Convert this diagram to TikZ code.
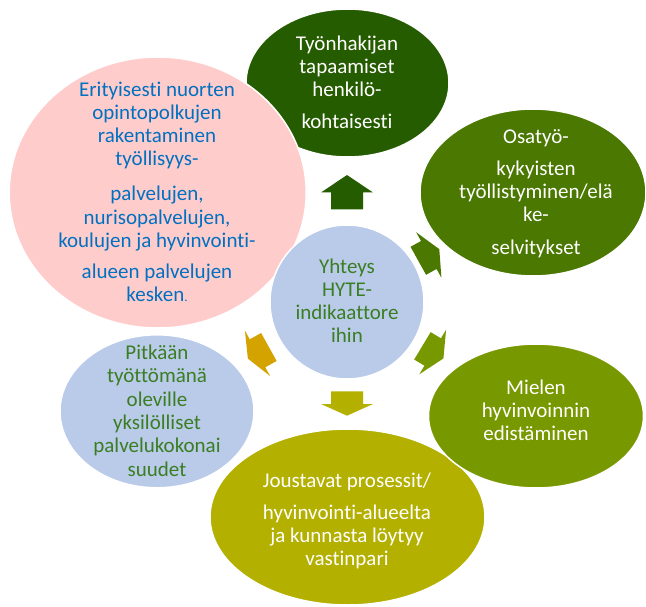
\documentclass[tikz,border=0pt]{standalone}
\usepackage{fontspec}
\setmainfont{Carlito}[Ligatures=NoCommon]
\usetikzlibrary{shapes.geometric}
\definecolor{cTop}{HTML}{265C00}
\definecolor{cOsa}{HTML}{4A7800}
\definecolor{cMie}{HTML}{789800}
\definecolor{cJou}{HTML}{B3B000}
\definecolor{cGold}{HTML}{D4A300}
\definecolor{cBlue}{HTML}{B9CBE9}
\definecolor{cPink}{HTML}{FFCCCC}
\definecolor{tBlue}{HTML}{0070C0}
\definecolor{tGreen}{HTML}{3B7D23}
\tikzset{
  blob/.style={ellipse, draw=white, line width=1.5pt, inner sep=0pt},
  txt/.style={align=center, inner sep=0pt, font=\fontsize{21}{23.3}\selectfont}
}
% block arrow: barb-mid x, y, angle, shaft length, head length, colour
\newcommand{\radarrow}[6]{%
  \begin{scope}[shift={(#1,#2)},rotate=#3]
    \fill[#6] (#5pt,0pt) -- (0pt,26pt) -- (0pt,16pt) -- (-#4pt,16pt)
      -- (-#4pt,-16pt) -- (0pt,-16pt) -- (0pt,-26pt) -- cycle;
  \end{scope}}
\begin{document}
\begin{tikzpicture}[x=1pt,y=-1pt]
\useasboundingbox (0,0) rectangle (646,607);
\fill[white] (0,0) rectangle (646,607);
% arrows
\radarrow{347}{192.5}{90}{17}{17.5}{cTop}
\radarrow{428.8}{255}{29}{12}{12}{cOsa}
\radarrow{432.7}{352}{-31}{12}{12.5}{cMie}
\radarrow{347}{404}{-90}{12.7}{11.7}{cJou}
\radarrow{257.5}{353.3}{209}{13}{11}{cGold}
% shapes
\node[blob, fill=cTop, minimum width=203pt, minimum height=148pt] (top) at (347.5,83) {};
\node[blob, fill=cOsa, minimum width=226pt, minimum height=167pt] (osa) at (533,192.5) {};
\node[blob, fill=cJou, minimum width=275pt, minimum height=176pt] (jou) at (347.5,517) {};
\node[blob, fill=cMie, minimum width=215pt, minimum height=144pt] (mie) at (536,416) {};
\node[blob, fill=cBlue, minimum width=194pt, minimum height=153pt] (pit) at (157,411.3) {};
\node[blob, fill=cPink, minimum width=297pt, minimum height=271pt] (eri) at (157.7,192.5) {};
\node[blob, fill=cBlue, minimum width=154pt, minimum height=154pt] (hyte) at (347,302) {};
% texts
\node[txt, text=white] (toptxt) at (347,84.5)
  {\strut Työnhakijan\\ tapaamiset\\ henkilö-\\[8.3pt] kohtaisesti\strut};
\node[txt, text=white] (osatxt) at (536,194.5)
  {\strut Osatyö-\\[8.4pt] kykyisten\\ työllistyminen/elä\\ ke-\\[10pt] selvitykset\strut};
\node[txt, text=tBlue] (eritxt) at (157,194.25)
  {\strut Erityisesti nuorten\\ opintopolkujen\\ rakentaminen\\ työllisyys-\\[11.7pt] palvelujen,\\ nurisopalvelujen,\\ koulujen ja hyvinvointi-\\[7.7pt] alueen palvelujen\\ kesken{\fontsize{13}{13}\selectfont .}\strut};
\node[txt, text=tGreen] (hytetxt) at (347,303.35)
  {\strut Yhteys\\ HYTE-\\ indikaattore\\ ihin\strut};
\node[txt, text=tGreen] (pittxt) at (157,413.2)
  {\strut Pitkään\\ työttömänä\\ oleville\\ yksilölliset\\ palvelukokonai\\ suudet\strut};
\node[txt, text=white] (mietxt) at (536,412.7)
  {\strut Mielen\\ hyvinvoinnin\\ edistäminen\strut};
\node[txt, text=white] (joutxt) at (347,521.85)
  {\strut Joustavat prosessit/\\[8.4pt] hyvinvointi-alueelta\\ ja kunnasta löytyy\\ vastinpari\strut};
\end{tikzpicture}
\end{document}
